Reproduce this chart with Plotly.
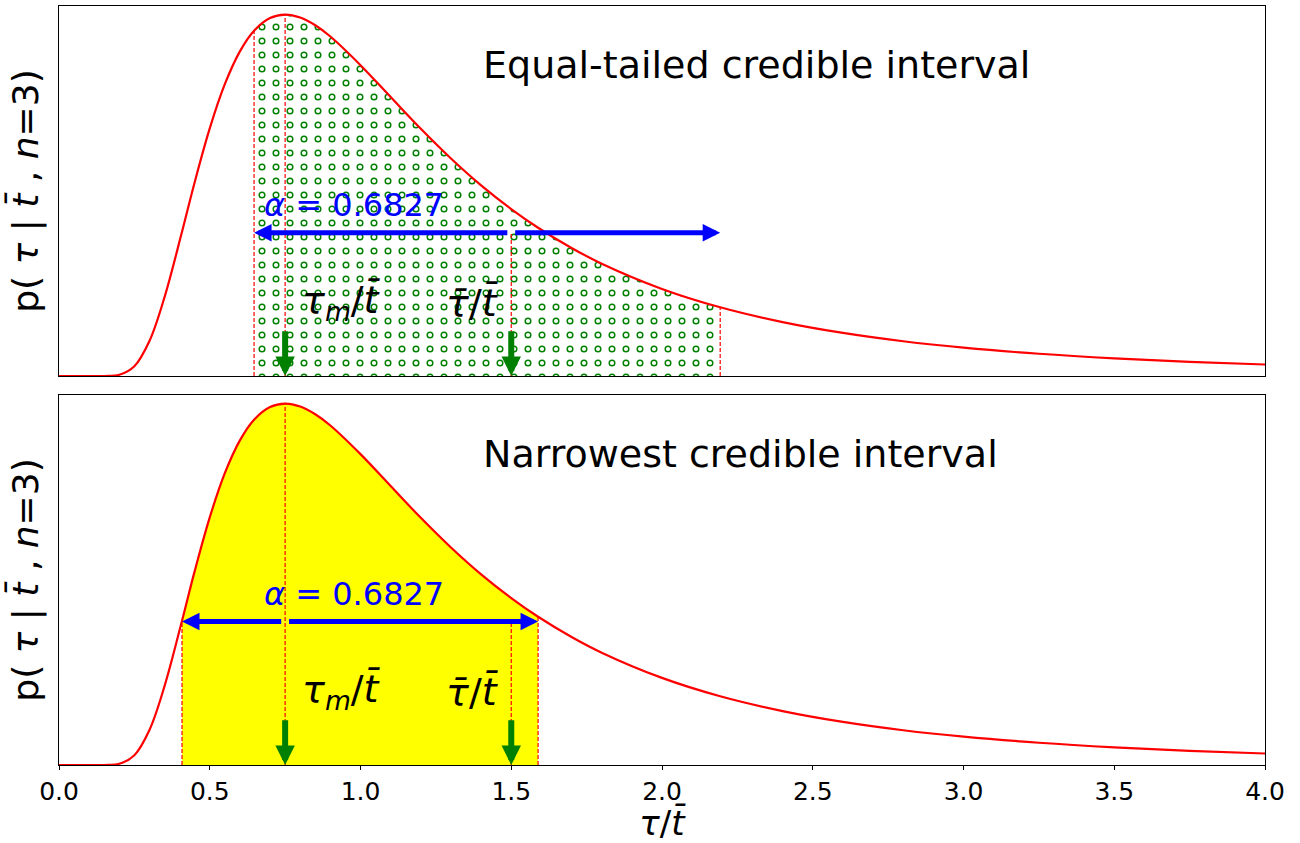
import plotly.graph_objects as go

# ---- data ----
tau = [0.0, 0.05, 0.1, 0.15, 0.2, 0.25, 0.3, 0.35, 0.408, 0.45, 0.5, 0.55, 0.6,
       0.647, 0.7, 0.75, 0.8, 0.85, 0.9, 1.0, 1.1, 1.2, 1.3, 1.4, 1.5, 1.589,
       1.7, 1.8, 2.0, 2.193, 2.4, 2.6, 2.8, 3.0, 3.25, 3.5, 3.75, 4.0]
pdf = [0.0, 0.0, 0.0, 0.00005, 0.0026, 0.0212, 0.0757, 0.1705, 0.3118, 0.4191, 0.5354, 0.6309, 0.7019,
       0.7465, 0.7739, 0.7815, 0.7751, 0.7583, 0.7340, 0.6721, 0.6031, 0.5344, 0.4703, 0.4122, 0.3609, 0.3205,
       0.2768, 0.2429, 0.1883, 0.1486, 0.1166, 0.0932, 0.0752, 0.0613, 0.0481, 0.0382, 0.0307, 0.0249]

equal_tailed = (0.647, 2.193)
narrowest = (0.408, 1.589)
tau_mode = 0.75
tau_mean = 1.5
arrow_level = 0.31
alpha_label = "<i>α</i> = 0.6827"
titles = ["Equal-tailed credible interval", "Narrowest credible interval"]
xticks = [0.0, 0.5, 1.0, 1.5, 2.0, 2.5, 3.0, 3.5, 4.0]

lookup = dict(zip(tau, pdf))

def subset(lo, hi):
    xs = [t for t in tau if lo <= t <= hi]
    return xs, [lookup[t] for t in xs]

RED = "#ff0000"
GREEN = "#008000"
BLUE = "#0000ff"
FONT = "DejaVu Sans"

fig = go.Figure()

# ---------- top panel ----------
ex, ey = subset(*equal_tailed)
fig.add_trace(go.Scatter(x=ex, y=ey, mode="lines", line=dict(width=0, shape="spline"),
                         fill="tozeroy", fillcolor="white",
                         fillpattern=dict(shape=".", fgcolor=GREEN, bgcolor="white", size=14,
                                          solidity=0.2, fgopacity=1, fillmode="replace"),
                         xaxis="x", yaxis="y", showlegend=False, hoverinfo="skip"))
fig.add_trace(go.Scatter(x=ex, y=ey, mode="lines", line=dict(width=0, shape="spline"),
                         fill="tozeroy", fillcolor="rgba(0,0,0,0)",
                         fillpattern=dict(shape=".", fgcolor="white", bgcolor="rgba(0,0,0,0)", size=14,
                                          solidity=0.07, fgopacity=1, fillmode="replace"),
                         xaxis="x", yaxis="y", showlegend=False, hoverinfo="skip"))
fig.add_trace(go.Scatter(x=tau, y=pdf, mode="lines", line=dict(color=RED, width=2.2, shape="spline"),
                         xaxis="x", yaxis="y", showlegend=False))

# ---------- bottom panel ----------
nx, ny = subset(*narrowest)
fig.add_trace(go.Scatter(x=nx, y=ny, mode="lines", line=dict(width=0, shape="spline"),
                         fill="tozeroy", fillcolor="#ffff00",
                         xaxis="x2", yaxis="y2", showlegend=False, hoverinfo="skip"))
fig.add_trace(go.Scatter(x=tau, y=pdf, mode="lines", line=dict(color=RED, width=2.2, shape="spline"),
                         xaxis="x2", yaxis="y2", showlegend=False))

# dashed vertical guide lines
def vline(x, h, xr, yr):
    fig.add_shape(type="line", x0=x, x1=x, y0=0, y1=h, xref=xr, yref=yr,
                  line=dict(color=RED, width=1.2, dash="4px,2px"), layer="above")

for xr, yr, (lo, hi) in [("x", "y", equal_tailed), ("x2", "y2", narrowest)]:
    vline(lo, lookup[lo], xr, yr)
    vline(hi, lookup[hi], xr, yr)
    vline(tau_mode, lookup[tau_mode], xr, yr)
    vline(tau_mean, arrow_level, xr, yr)

# arrows
def arrow(x_head, y_head, x_tail, y_tail, xr, yr, color, width, size):
    fig.add_annotation(x=x_head, y=y_head, ax=x_tail, ay=y_tail, xref=xr, yref=yr,
                       axref=xr, ayref=yr, text="", showarrow=True, arrowhead=2,
                       arrowwidth=width, arrowsize=size, arrowcolor=color, standoff=0)

gap = 0.008
arrow(equal_tailed[0], arrow_level, tau_mean - gap, arrow_level, "x", "y", BLUE, 5, 0.7)
arrow(equal_tailed[1], arrow_level, tau_mean + gap, arrow_level, "x", "y", BLUE, 5, 0.7)
arrow(narrowest[0], arrow_level, tau_mode - gap, arrow_level, "x2", "y2", BLUE, 5, 0.7)
arrow(narrowest[1], arrow_level, tau_mode + gap, arrow_level, "x2", "y2", BLUE, 5, 0.7)

for xr, yr in [("x", "y"), ("x2", "y2")]:
    for v in (tau_mode, tau_mean):
        arrow(v, 0, v, 0.1, xr, yr, GREEN, 6, 0.65)

# text labels
for xr, yr, title in [("x", "y", titles[0]), ("x2", "y2", titles[1])]:
    fig.add_annotation(x=1.40, y=0.673, xref=xr, yref=yr, text=title, showarrow=False,
                       xanchor="left", yanchor="middle", font=dict(family=FONT, size=38, color="black"))
    fig.add_annotation(x=0.98, y=0.37, xref=xr, yref=yr, text=alpha_label, showarrow=False,
                       xanchor="center", yanchor="middle", font=dict(family=FONT, size=32, color=BLUE))
    fig.add_annotation(x=0.937, y=0.158, xref=xr, yref=yr, text="<i>τ</i><sub><i>m</i></sub>/<i>t̄</i>",
                       showarrow=False, xanchor="center", yanchor="middle",
                       font=dict(family=FONT, size=38, color="black"))
    fig.add_annotation(x=1.373, y=0.158, xref=xr, yref=yr, text="<i>τ̄</i>/<i>t̄</i>",
                       showarrow=False, xanchor="center", yanchor="middle",
                       font=dict(family=FONT, size=38, color="black"))

ylab = "p( <i>τ</i> | <i>t̄</i> , <i>n</i>=3)"
axis_common = dict(showgrid=False, zeroline=False, showline=True, mirror=True,
                   linecolor="black", linewidth=1)

fig.update_layout(
    width=1300, height=843,
    margin=dict(l=59, r=35, t=5, b=77),
    paper_bgcolor="white", plot_bgcolor="white",
    font=dict(family=FONT, color="black"),
    xaxis=dict(domain=[0, 1], anchor="y", range=[0, 4], matches="x2",
               showticklabels=False, ticks="", **axis_common),
    yaxis=dict(domain=[0.5125, 1], anchor="x", range=[0, 0.8], showticklabels=False, ticks="",
               title=dict(text=ylab, font=dict(size=36), standoff=8), **axis_common),
    xaxis2=dict(domain=[0, 1], anchor="y2", range=[0, 4], tickvals=xticks,
                ticktext=[f"{v:.1f}" for v in xticks], ticks="outside", ticklen=4,
                tickcolor="black", tickfont=dict(size=25),
                title=dict(text="<i>τ</i>/<i>t̄</i>", font=dict(size=34), standoff=8), **axis_common),
    yaxis2=dict(domain=[0, 0.4875], anchor="x2", range=[0, 0.8], showticklabels=False, ticks="",
                title=dict(text=ylab, font=dict(size=36), standoff=8), **axis_common),
)

fig.write_html("out.html", config={"displayModeBar": False},
               post_script="document.body.style.margin='0';document.body.style.overflow='hidden';")
